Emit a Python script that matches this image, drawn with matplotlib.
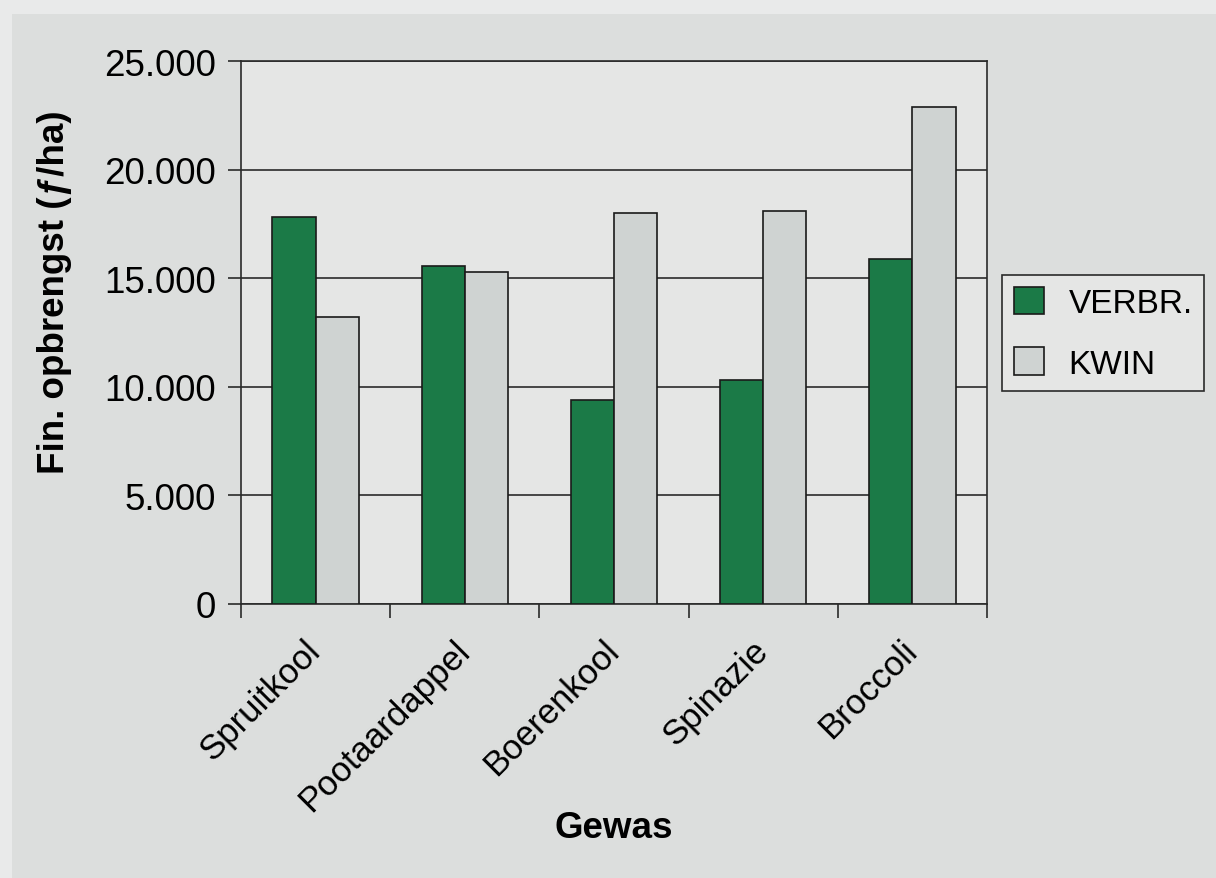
import matplotlib.pyplot as plt
import matplotlib.transforms as mtransforms
import numpy as np

plt.rcParams['font.family'] = ['Liberation Sans', 'DejaVu Sans']

# gegevens
gewassen = ['Spruitkool', 'Pootaardappel', 'Boerenkool', 'Spinazie', 'Broccoli']
verbr = [17800, 15550, 9400, 10300, 15900]
kwin = [13200, 15300, 18000, 18100, 22900]
y_ticks = [0, 5000, 10000, 15000, 20000, 25000]
y_labels = ['0', '5.000', '10.000', '15.000', '20.000', '25.000']

groen = '#1b7a47'
grijs = '#cfd3d2'
achtergrond = '#dcdedd'
vlak = '#e5e6e5'
lijn = '#2a2a2a'

W, H = 1216, 879
fig = plt.figure(figsize=(W / 100, H / 100), dpi=100, facecolor='#e9eaea')
# donkerder paneel achter de grafiek
paneel = plt.Rectangle((12 / W, 0), 1, 1 - 15 / H, transform=fig.transFigure,
                       facecolor=achtergrond, edgecolor='none', zorder=-1)
fig.add_artist(paneel)

ax = fig.add_axes([241 / W, 1 - 605 / H, 746 / W, 543 / H])
ax.set_zorder(2)
ax.set_facecolor(vlak)

x = np.arange(len(gewassen))
b = 0.29
ax.bar(x - b / 2, verbr, b, color=groen, edgecolor='#1a1a1a', linewidth=1.2,
       label='VERBR.', zorder=3)
ax.bar(x + b / 2, kwin, b, color=grijs, edgecolor='#1a1a1a', linewidth=1.2,
       label='KWIN', zorder=3)

ax.set_xlim(-0.5, len(gewassen) - 0.5)
ax.set_ylim(0, 25000)
ax.set_yticks(y_ticks)
ax.set_yticklabels(y_labels, fontsize=26.5)
ax.yaxis.grid(True, color=lijn, linewidth=1.2, zorder=1)
ax.set_axisbelow(True)
ax.tick_params(axis='y', direction='out', length=9.5, width=1.2, color=lijn, pad=8.5)

# labels in het midden, streepjes op de grenzen
ax.set_xticks(x)
ax.set_xticklabels(gewassen, fontsize=25, rotation=45, ha='right', rotation_mode='anchor')
ax.set_xticks(np.arange(len(gewassen) + 1) - 0.5, minor=True)
ax.tick_params(axis='x', which='major', length=0, pad=21)
ax.tick_params(axis='x', which='minor', direction='out', length=10, width=1.2, color=lijn)
offset = mtransforms.ScaledTranslation(-0.12, 0, fig.dpi_scale_trans)
for lab in ax.get_xticklabels():
    lab.set_transform(lab.get_transform() + offset)

for s in ax.spines.values():
    s.set_linewidth(1.2)
    s.set_color(lijn)

fig.text(55 / W, 1 - 292 / H, 'Fin. opbrengst (ƒ/ha)', fontsize=26.5, fontweight='bold',
         rotation=90, ha='center', va='center')
fig.text(614 / W, 1 - 829 / H, 'Gewas', fontsize=26.5, fontweight='bold',
         ha='center', va='center')

leg = ax.legend(loc='upper left', bbox_to_anchor=(1002 / W, 1 - 276 / H),
                bbox_transform=fig.transFigure, fontsize=24,
                frameon=True, fancybox=False, facecolor=vlak, edgecolor=lijn,
                handlelength=0.9, handleheight=0.9, handletextpad=0.75,
                borderpad=0.35, borderaxespad=0, labelspacing=0.85)
leg.get_frame().set_linewidth(1.2)
leg.get_frame().set_alpha(1)

fig.savefig('out.png', dpi=100, facecolor=fig.get_facecolor())
